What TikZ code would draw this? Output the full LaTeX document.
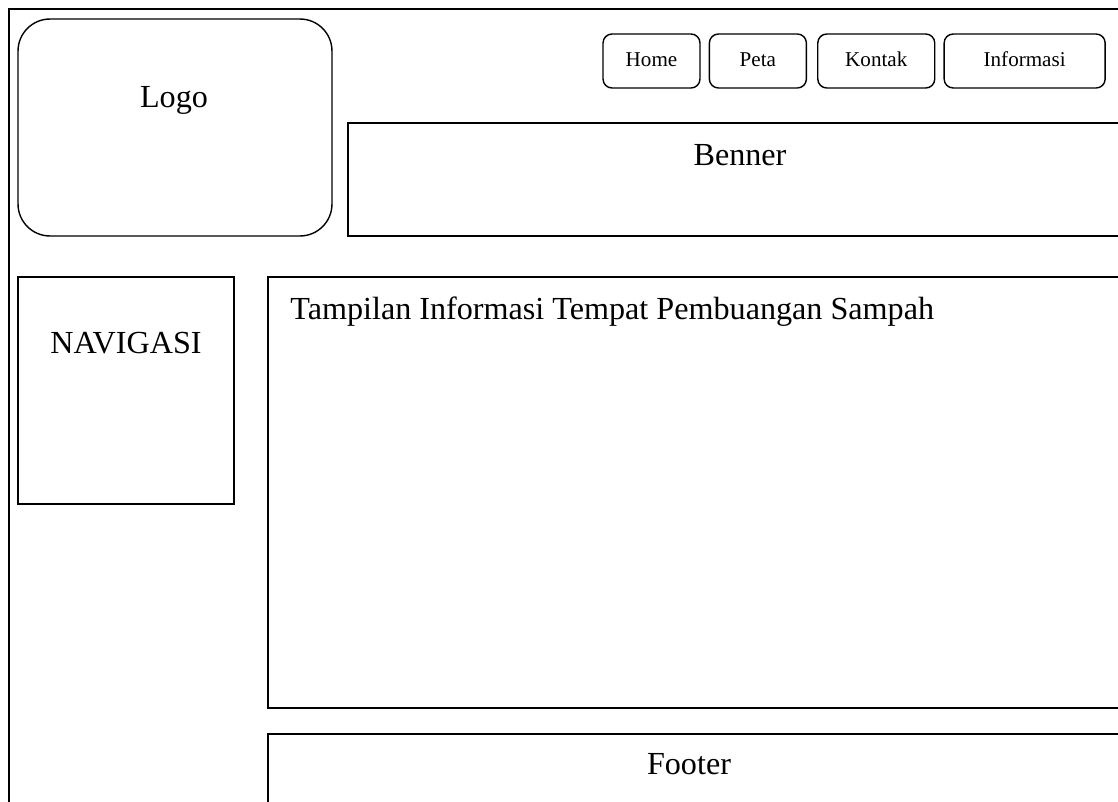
\documentclass[tikz,border=0pt]{standalone}
\usepackage{fontspec}
\setmainfont{Liberation Serif}
\usetikzlibrary{positioning}

\begin{document}
\begin{tikzpicture}[
    x=0.02cm, y=-0.02cm,
    node distance=0.16cm,
    box/.style={rectangle, draw, line width=0.8pt, inner sep=0pt},
    logobox/.style={box, rounded corners=0.64cm, minimum width=6.28cm, minimum height=4.34cm},
    menu/.style={box, rounded corners=0.18cm, minimum height=1.08cm, text height=0.66em, text depth=0pt, font=\fontsize{12}{14}\selectfont},
    bigtext/.style={anchor=base, inner sep=0pt, font=\fontsize{18.3}{21}\selectfont}
]

\useasboundingbox (0,0) rectangle (1118,801);
\clip (0,0) rectangle (1118,801);

% outer frame
\draw [line width=0.8pt] (9,830) -- (9,9) -- (1130,9);

% header
\node (logo) [logobox] at (175,127.5) {};
\node (logotext) [bigtext] at (174,107) {Logo};

\node (home) [menu, minimum width=1.94cm] at (651.5,61) {Home};
\node (peta) [menu, minimum width=1.94cm, right=of home] {Peta};
\node (kontak) [menu, minimum width=2.34cm, right=0.2cm of peta] {Kontak};
\node (informasi) [menu, minimum width=3.22cm, right=of kontak] {Informasi};

\node (benner) [box, minimum width=15.64cm, minimum height=2.26cm] at (739,179.5) {};
\node (bennertext) [bigtext] at (740,165) {Benner};

% body
\node (navigasi) [box, minimum width=4.32cm, minimum height=4.54cm] at (126,390.5) {};
\node (navtext) [bigtext] at (126,353) {NAVIGASI};

\node (konten) [box, minimum width=17.24cm, minimum height=8.62cm] at (699,492.5) {};
\node (kontentext) [bigtext, anchor=base west] at (290,319) {Tampilan Informasi Tempat Pembuangan Sampah};

% footer
\node (footer) [box, minimum width=17.24cm, minimum height=1.92cm] at (699,782) {};
\node (footertext) [bigtext] at (689,774) {Footer};

\end{tikzpicture}
\end{document}
